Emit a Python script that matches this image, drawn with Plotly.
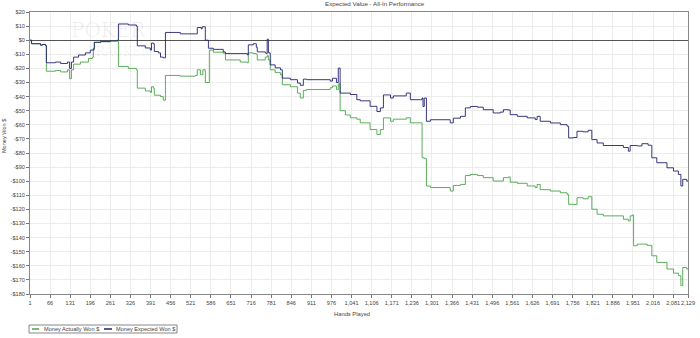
import plotly.graph_objects as go

# ---- data (hands played, money won $) ----
expected_hands = [1, 6, 35, 41, 51, 54, 83, 100, 122, 129, 135, 142, 158, 180, 196, 206, 209, 229, 261,
                  284, 287, 319, 345, 348, 374, 390, 394, 400, 403, 416, 423, 432, 439, 487, 536, 542,
                  555, 558, 568, 578, 594, 626, 633, 704, 707, 723, 733, 736, 762, 765, 768, 772, 778,
                  794, 811, 817, 843, 866, 875, 885, 895, 972, 979, 992, 998, 1004, 1037, 1058, 1069,
                  1101, 1123, 1134, 1144, 1167, 1176, 1218, 1231, 1264, 1269, 1272, 1276, 1283, 1296,
                  1360, 1370, 1393, 1409, 1425, 1448, 1467, 1499, 1522, 1532, 1548, 1554, 1577, 1609,
                  1635, 1641, 1651, 1684, 1716, 1738, 1743, 1758, 1770, 1790, 1806, 1818, 1835, 1855,
                  1920, 1936, 1942, 1965, 1980, 2000, 2012, 2028, 2061, 2082, 2098, 2106, 2112, 2125, 2129]
expected_won = [0, -2.5, -3.5, -3, -3.8, -16, -15.5, -16.5, -15.5, -20, -15.5, -12, -10.5, -9, -7, -6,
                -1.5, -1, -0.5, 0, 11.5, 10.8, 10, -4, -5.5, -7, -2, -2.5, -8, -9, -12, -12.5, 5.5, 4.5,
                4.5, 9, 8, 9.5, 0, -5.7, -6.5, -8.3, -9.5, -10.4, -3.3, -2.5, -5, -8.3, -9, -9.5, 0.7,
                -9, -17.5, -19.6, -21, -26.9, -28, -30.4, -32, -27.6, -28, -29, -27, -30, -19.8, -37.5,
                -38.5, -42.2, -43, -46.9, -50.6, -48, -38.8, -41, -39.5, -37.5, -42.2, -42.2, -41, -47,
                -41, -57.5, -56.4, -58.6, -55.3, -54, -48, -47, -47.5, -49.3, -51.6, -51, -49.3, -49.5,
                -52.8, -54, -55.1, -56.3, -54, -57.5, -58.7, -59.9, -61, -69.3, -69, -64.6, -65, -63.9,
                -70.5, -72.9, -74.7, -76.1, -78.7, -74.7, -75, -73.4, -74.5, -83.4, -86.9, -90.5, -92.8,
                -95.2, -103.4, -98.7, -100, -100]

actual_hands = [1, 6, 35, 41, 51, 54, 83, 100, 122, 129, 135, 142, 164, 190, 203, 206, 209, 229, 261,
                284, 287, 319, 345, 348, 374, 390, 394, 400, 403, 423, 432, 439, 487, 536, 542, 552,
                560, 568, 581, 594, 626, 633, 681, 704, 707, 723, 733, 736, 762, 768, 772, 778, 794,
                811, 817, 843, 866, 875, 885, 895, 972, 979, 992, 998, 1004, 1021, 1037, 1058, 1069,
                1101, 1123, 1134, 1144, 1167, 1176, 1218, 1231, 1264, 1269, 1276, 1283, 1296, 1360,
                1370, 1393, 1409, 1425, 1448, 1467, 1499, 1532, 1548, 1554, 1577, 1609, 1635, 1641,
                1651, 1684, 1716, 1738, 1743, 1758, 1770, 1790, 1806, 1818, 1835, 1855, 1920, 1936,
                1942, 1949, 1953, 1965, 1997, 2012, 2028, 2061, 2082, 2098, 2106, 2112, 2125, 2129]
actual_won = [0, -2.5, -3.5, -3, -3.8, -22, -21.5, -22.5, -21, -27.3, -21, -17, -15.5, -13, -12, -6.9,
              -1.5, -1, -0.5, 0, -18.6, -20, -21, -34, -36, -37, -33, -34, -39, -40, -42.5, -25, -25.5,
              -25, -21, -24.5, -21, -30, -7, -8.5, -9.2, -14, -15.5, -16, -9, -9.5, -10, -14, -12, -11,
              -14, -21, -23, -24.5, -31.6, -33, -37.5, -41, -35.6, -35, -33.7, -32.5, -35, -31, -50,
              -53, -55, -56, -58.6, -63.4, -66.9, -63.4, -55.1, -57.5, -56, -55, -58.6, -58.6, -83.4,
              -84, -103.4, -104.5, -107, -103, -102.3, -96, -95.2, -96, -97.5, -99.9, -97.5, -97,
              -100.7, -101.5, -103.4, -104.5, -102.3, -106, -107, -108.2, -109.4, -116.4, -116.5,
              -111.7, -112.5, -111, -119.9, -123.4, -124.6, -127, -128.2, -124.6, -124, -145.8,
              -144.6, -145.5, -152.9, -157.6, -162.3, -165.2, -167, -174.1, -161.2, -162.3, -162.3]

x_tick_vals = [1 + 65 * i for i in range(33)] + [2129]
x_tick_text = [f"{v:,}" for v in x_tick_vals]
y_tick_vals = list(range(20, -181, -10))
y_tick_text = [("-$" if v < 0 else "$") + str(abs(v)) for v in y_tick_vals]

GREEN = "#4aa54a"
BLUE = "#22226e"
FONT = "Liberation Sans"
TXT = "#444"

fig = go.Figure()
fig.add_trace(go.Scatter(x=actual_hands, y=actual_won, mode="lines", line_shape="hv",
                         line=dict(color=GREEN, width=0.9), name="Money Actually Won $", showlegend=False))
fig.add_trace(go.Scatter(x=expected_hands, y=expected_won, mode="lines", line_shape="hv",
                         line=dict(color=BLUE, width=0.9), name="Money Expected Won $", showlegend=False))

fig.update_layout(
    width=700, height=338,
    margin=dict(l=30, r=12, t=12, b=44, autoexpand=False),
    paper_bgcolor="white", plot_bgcolor="white",
    font=dict(family=FONT, size=5.6, color=TXT),
    xaxis=dict(range=[1, 2129], tickvals=x_tick_vals, ticktext=x_tick_text, tickangle=0,
               automargin=False, showgrid=True, gridcolor="#ececec", gridwidth=1,
               ticks="outside", ticklen=3, tickcolor="#777",
               showline=True, linecolor="#888", mirror=True, zeroline=False),
    yaxis=dict(range=[-180, 20], tickvals=y_tick_vals, ticktext=y_tick_text,
               automargin=False, showgrid=True, gridcolor="#ececec", gridwidth=1,
               ticks="outside", ticklen=3, tickcolor="#777",
               showline=True, linecolor="#888", mirror=True,
               zeroline=True, zerolinecolor="#555", zerolinewidth=1),
)

# title and axis titles
fig.add_annotation(xref="paper", yref="paper", x=0.524, y=1.0, xanchor="center", yanchor="bottom",
                   yshift=3, text="Expected Value - All-In Performance", showarrow=False,
                   font=dict(size=6.2, color=TXT))
fig.add_annotation(xref="paper", yref="paper", x=0.49, y=0.0, xanchor="center", yanchor="top",
                   yshift=-15, text="Hands Played", showarrow=False, font=dict(size=5.8, color=TXT))
fig.add_annotation(xref="paper", yref="paper", x=0.0, y=0.56, xanchor="center", yanchor="middle",
                   xshift=-26, text="Money Won $", textangle=-90, showarrow=False,
                   font=dict(size=5.6, color=TXT))

# watermark
fig.add_annotation(xref="paper", yref="paper", x=0.06, y=0.985, xanchor="left", yanchor="top",
                   text="POKER", showarrow=False,
                   font=dict(family="DejaVu Serif", size=20, color="rgba(0,0,0,0.06)"))
fig.add_annotation(xref="paper", yref="paper", x=0.085, y=0.89, xanchor="left", yanchor="top",
                   text="TRACKER", showarrow=False,
                   font=dict(family="DejaVu Serif", size=12, color="rgba(0,0,0,0.06)"))

# legend drawn manually (short samples as in the reference)
ph = 338 - 12 - 44
lg_y0, lg_y1 = -(325 - 294) / ph, -(333 - 294) / ph
pw = 700 - 30 - 12
fig.add_shape(type="rect", xref="paper", yref="paper", x0=-1 / pw, x1=147 / pw, y0=lg_y1, y1=lg_y0,
              line=dict(color="#888", width=1), fillcolor="white")
ym = (lg_y0 + lg_y1) / 2
fig.add_shape(type="line", xref="paper", yref="paper", x0=2 / pw, x1=9 / pw, y0=ym, y1=ym,
              line=dict(color=GREEN, width=1.5))
fig.add_annotation(xref="paper", yref="paper", x=12 / pw, y=ym, xanchor="left", yanchor="middle",
                   text="Money Actually Won $", showarrow=False, font=dict(size=5.6, color=TXT))
fig.add_shape(type="line", xref="paper", yref="paper", x0=74 / pw, x1=82 / pw, y0=ym, y1=ym,
              line=dict(color=BLUE, width=1.5))
fig.add_annotation(xref="paper", yref="paper", x=84 / pw, y=ym, xanchor="left", yanchor="middle",
                   text="Money Expected Won $", showarrow=False, font=dict(size=5.6, color=TXT))

fig.write_html("out.html")
